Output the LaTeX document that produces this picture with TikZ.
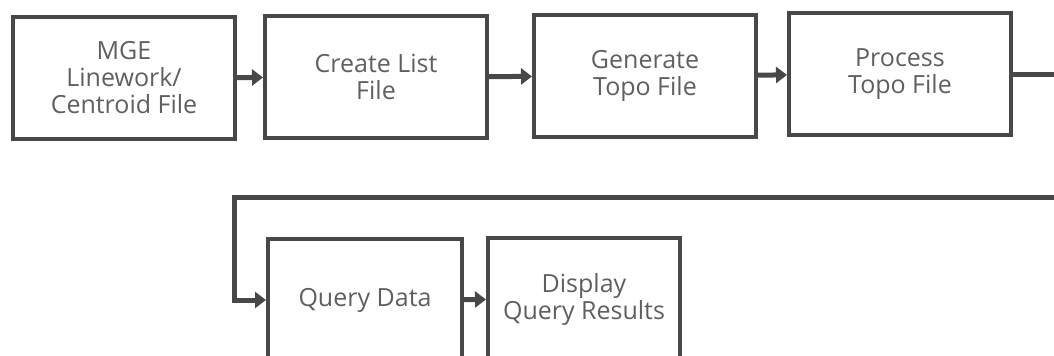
\documentclass[tikz,border=0pt]{standalone}
\usepackage{fontspec}
\setmainfont{Open Sans}
\usetikzlibrary{arrows.meta}
\definecolor{trait}{RGB}{72,72,72}
\definecolor{texte}{RGB}{95,95,95}

\begin{document}
\begin{tikzpicture}[x=0.5pt,y=-0.5pt,
  boite/.style={draw=trait,line width=2pt,minimum width=111pt,minimum height=61pt,
    inner sep=0pt,align=center,text=texte,font=\fontsize{12.5}{13.5}\selectfont},
  fleche/.style={draw=trait,line width=2.5pt,-{Triangle[length=5.5pt,width=8pt]}}]
	\useasboundingbox (0,0) rectangle (1054,355);
	\clip (0,0) rectangle (1054,355);
	% rangee du haut
	\node[boite] (mge) at (124,78) {MGE\\Linework/\\Centroid File};
	\node[boite] (liste) at (376,77) {Create List\\File};
	\node[boite] (gen) at (645,76) {Generate\\Topo File};
	\node[boite] (proc) at (900,74) {Process\\Topo File};
	% rangee du bas
	\node[boite,minimum width=97pt] (requete) at (365,300) {Query Data};
	\node[boite,minimum width=96pt] (affich) at (584,299) {Display\\Query Results};
	\coordinate (coin) at (1090,197);
	\coordinate (retour) at (234,197);
	\draw[fleche] (mge) -- (liste);
	\draw[fleche] (liste) -- (gen);
	\draw[fleche] (gen) -- (proc);
	\draw[fleche] (proc) -| (coin) -- (retour) |- (requete);
	\draw[fleche] (requete) -- (affich);
\end{tikzpicture}
\end{document}
